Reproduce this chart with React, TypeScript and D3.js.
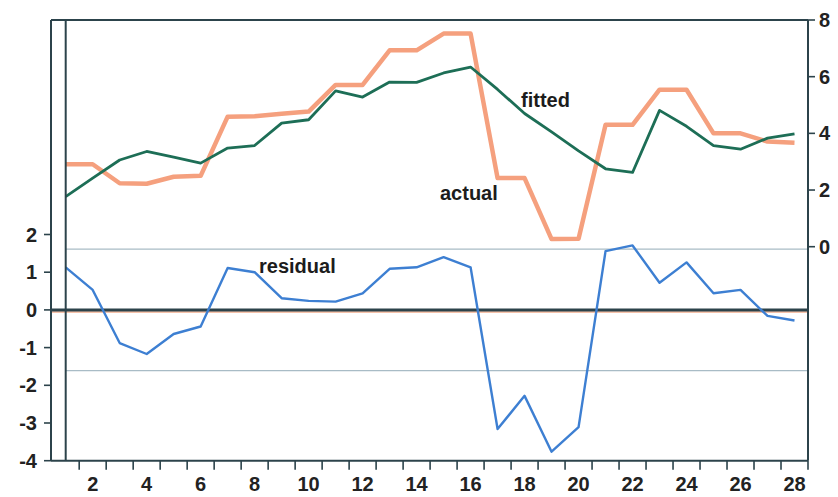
import React from "react";
import * as d3 from "d3";

// Observation index 1..28
const observations: number[] = Array.from({ length: 28 }, (_, i) => i + 1);

const actual: number[] = [
  2.91, 2.91, 2.24, 2.22, 2.47, 2.5, 4.59, 4.6, 4.69, 4.77,
  5.71, 5.71, 6.93, 6.93, 7.52, 7.52, 2.42, 2.42, 0.27, 0.28,
  4.3, 4.3, 5.54, 5.54, 4.0, 4.0, 3.71, 3.67,
];

const fitted: number[] = [
  1.77, 2.42, 3.06, 3.36, 3.16, 2.95, 3.48, 3.57, 4.36, 4.48,
  5.5, 5.28, 5.81, 5.8, 6.13, 6.34, 5.55, 4.7, 4.05, 3.38,
  2.75, 2.62, 4.81, 4.25, 3.57, 3.44, 3.83, 3.98,
];

const residual: number[] = [
  1.13, 0.53, -0.88, -1.17, -0.64, -0.44, 1.11, 1.0, 0.31, 0.24,
  0.22, 0.44, 1.09, 1.13, 1.4, 1.13, -3.16, -2.28, -3.76, -3.11,
  1.56, 1.71, 0.72, 1.26, 0.44, 0.53, -0.16, -0.28,
];

const leftTicks: number[] = [-4, -3, -2, -1, 0, 1, 2];
const rightTicks: number[] = [0, 2, 4, 6, 8];
const bottomLabels: number[] = [2, 4, 6, 8, 10, 12, 14, 16, 18, 20, 22, 24, 26, 28];
const bandLevel = 1.61;

const W = 838;
const H = 497;
const frameLeft = 51;
const plotLeft = 65.7;
const plotRight = 808;
const plotTop = 20;
const plotBottom = 460.7;

const FRAME = "#2c434b";
const ORANGE = "#f5a07e";
const GREEN = "#1d6e56";
const BLUE = "#3d7fd2";
const FONT = "'Liberation Sans', Arial, sans-serif";

export default function App() {
  const x = d3.scaleLinear().domain([1, 28.5]).range([plotLeft, plotRight]);
  const yTop = d3.scaleLinear().domain([0, 8]).range([246.7, plotTop]);
  const yRes = d3.scaleLinear().domain([-4, 2]).range([plotBottom, 234.5]);

  const lineTop = d3
    .line<number>()
    .x((_, i) => x(observations[i]))
    .y((d) => yTop(d));
  const lineRes = d3
    .line<number>()
    .x((_, i) => x(observations[i]))
    .y((d) => yRes(d));

  const xTicks = d3.range(1.5, 28.6, 1);

  return (
    <svg
      width={W}
      height={H}
      style={{ position: "absolute", left: 0, top: 0, background: "#fff" }}
      fontFamily={FONT}
    >
      {/* ±1.61 bands and zero line for residuals */}
      {[bandLevel, -bandLevel].map((v) => (
        <line
          key={v}
          x1={plotLeft}
          x2={plotRight}
          y1={yRes(v)}
          y2={yRes(v)}
          stroke="#a9bcc6"
          strokeWidth={1.3}
        />
      ))}
      <line
        x1={frameLeft}
        x2={plotRight}
        y1={yRes(0) + 2}
        y2={yRes(0) + 2}
        stroke="#f6c3ab"
        strokeWidth={2}
      />
      <line
        x1={frameLeft}
        x2={plotRight}
        y1={yRes(0)}
        y2={yRes(0)}
        stroke={FRAME}
        strokeWidth={3}
      />

      {/* series */}
      <path d={lineTop(actual) ?? ""} fill="none" stroke={ORANGE} strokeWidth={4.5} strokeLinejoin="round" />
      <path d={lineTop(fitted) ?? ""} fill="none" stroke={GREEN} strokeWidth={2.8} strokeLinejoin="round" />
      <path d={lineRes(residual) ?? ""} fill="none" stroke={BLUE} strokeWidth={2.4} strokeLinejoin="round" />

      {/* frame */}
      <line x1={frameLeft} x2={plotRight} y1={plotTop} y2={plotTop} stroke={FRAME} strokeWidth={2} />
      <line x1={frameLeft} x2={plotRight} y1={plotBottom} y2={plotBottom} stroke={FRAME} strokeWidth={2} />
      <line x1={frameLeft} x2={frameLeft} y1={plotTop} y2={plotBottom} stroke={FRAME} strokeWidth={2} />
      <line x1={plotLeft} x2={plotLeft} y1={plotTop} y2={plotBottom} stroke={FRAME} strokeWidth={2} />
      <line x1={plotRight} x2={plotRight} y1={plotTop} y2={plotBottom} stroke={FRAME} strokeWidth={2} />

      {/* left axis (residual) */}
      {leftTicks.map((t) => (
        <g key={"l" + t}>
          <line x1={frameLeft - 7} x2={frameLeft} y1={yRes(t)} y2={yRes(t)} stroke={FRAME} strokeWidth={1.6} />
          <text
            x={37}
            y={yRes(t)}
            textAnchor="end"
            dominantBaseline="central"
            fontSize={20}
            fontWeight="bold"
            fill="#222"
          >
            {t}
          </text>
        </g>
      ))}

      {/* right axis (actual / fitted) */}
      {rightTicks.map((t) => (
        <g key={"r" + t}>
          <line x1={plotRight} x2={plotRight + 7} y1={yTop(t)} y2={yTop(t)} stroke={FRAME} strokeWidth={1.6} />
          <text
            x={819}
            y={yTop(t)}
            textAnchor="start"
            dominantBaseline="central"
            fontSize={20}
            fontWeight="bold"
            fill="#222"
          >
            {t}
          </text>
        </g>
      ))}

      {/* bottom axis */}
      {xTicks.map((t) => (
        <line key={"b" + t} x1={x(t)} x2={x(t)} y1={plotBottom} y2={plotBottom + 9} stroke={FRAME} strokeWidth={1.6} />
      ))}
      {bottomLabels.map((t) => (
        <text
          key={"bl" + t}
          x={x(t)}
          y={491}
          textAnchor="middle"
          fontSize={20}
          fontWeight="bold"
          fill="#222"
        >
          {t}
        </text>
      ))}

      {/* series labels */}
      <text x={521} y={107} fontSize={20} fontWeight="bold" fill="#1c1c1c">fitted</text>
      <text x={440} y={200} fontSize={20} fontWeight="bold" fill="#1c1c1c">actual</text>
      <text x={259} y={273} fontSize={20} fontWeight="bold" fill="#1c1c1c">residual</text>
    </svg>
  );
}
